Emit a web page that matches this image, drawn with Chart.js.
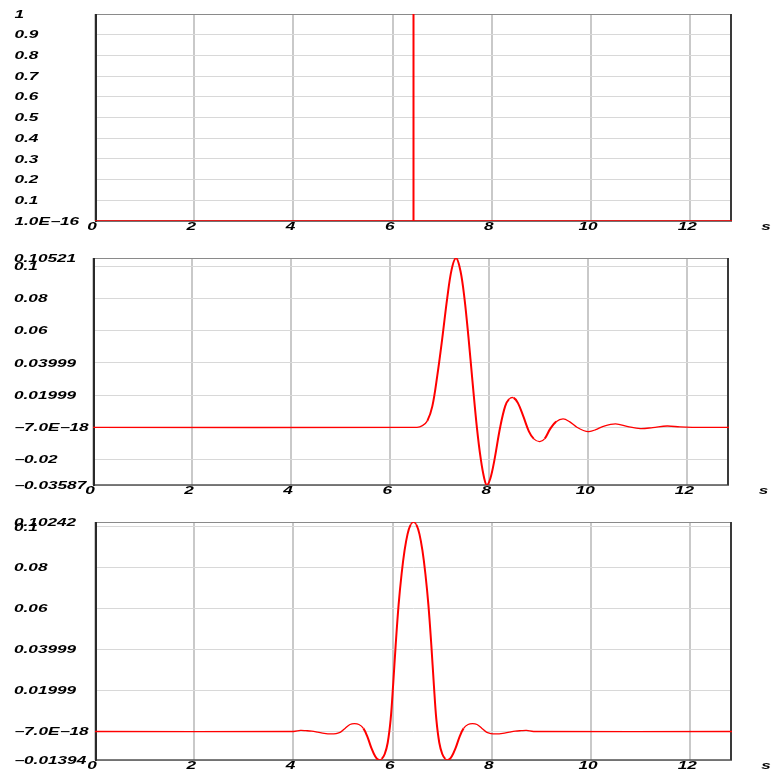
<!DOCTYPE html>
<html>
<head>
<meta charset="utf-8">
<script src="https://cdn.jsdelivr.net/npm/chart.js@4/dist/chart.umd.min.js"></script>
<style>
  html, body { margin: 0; padding: 0; background: #ffffff; }
  #wrap { position: relative; width: 773px; height: 771px; overflow: hidden; }
  canvas { position: absolute; left: 0; }
</style>
</head>
<body>
<div id="wrap">
  <canvas id="spikePanel" width="773" height="240" style="top:0px"></canvas>
  <canvas id="minPhasePanel" width="773" height="262" style="top:244px"></canvas>
  <canvas id="zeroPhasePanel" width="773" height="263" style="top:508px"></canvas>
</div>
<script>
// ---- time axis (seconds) ----
const timeTicks = [0, 2, 4, 6, 8, 10, 12];
const timeTickLabels = ["0", "2", "4", "6", "8", "10", "12"];
const timeMax = 12.84;
const timeUnit = "s";

// ---- panel 1: unit spike ----
const spikeTime = [0, 6.42, 6.42, 6.42, 12.84];
const spikeAmp  = [0, 0, 1, 0, 0];
const spikeTickValues = [1.0e-16, 0.1, 0.2, 0.3, 0.4, 0.5, 0.6, 0.7, 0.8, 0.9, 1];
const spikeTickLabels = ["1.0E\u221216", "0.1", "0.2", "0.3", "0.4", "0.5", "0.6", "0.7", "0.8", "0.9", "1"];

// ---- panel 2: minimum-phase wavelet ----
const minPhaseTime = [0, 6.54, 6.65, 6.75, 6.85, 6.95, 7.05, 7.15, 7.24, 7.33, 7.42, 7.50, 7.58, 7.66,
  7.75, 7.83, 7.90, 7.95, 8.02, 8.10, 8.22, 8.32, 8.40, 8.49, 8.58, 8.69, 8.80, 8.90, 9.02, 9.12,
  9.23, 9.35, 9.49, 9.62, 9.77, 9.90, 10.01, 10.15, 10.30, 10.55, 10.80, 11.05, 11.30, 11.59, 11.85,
  12.10, 12.84];
const minPhaseAmp = [0, 0, 0.0010, 0.0040, 0.0130, 0.0320, 0.0550, 0.0800, 0.0980, 0.10521, 0.0970,
  0.0800, 0.0560, 0.0290, 0.0000, -0.0200, -0.0320, -0.03587, -0.0320, -0.0210, 0.0000, 0.0130, 0.0175,
  0.01835, 0.0150, 0.0066, -0.0025, -0.0072, -0.0089, -0.0070, -0.0010, 0.0035, 0.0052, 0.0035, 0.0000,
  -0.0020, -0.0027, -0.0015, 0.0006, 0.0021, 0.0004, -0.0008, -0.0002, 0.0008, 0.0002, 0, 0];
const minPhaseTickValues = [-0.03587, -0.02, -7.0e-18, 0.01999, 0.03999, 0.06, 0.08, 0.1, 0.10521];
const minPhaseTickLabels = ["\u22120.03587", "\u22120.02", "\u22127.0E\u221218", "0.01999", "0.03999", "0.06", "0.08", "0.1", "0.10521"];

// ---- panel 3: zero-phase wavelet ----
const zeroPhaseTime = [0, 4.00, 4.14, 4.25, 4.37, 4.49, 4.62, 4.75, 4.86, 4.95, 5.04, 5.14, 5.23, 5.32,
  5.41, 5.49, 5.57, 5.65, 5.72, 5.78, 5.84, 5.90, 5.96, 6.01, 6.06, 6.12, 6.18, 6.24, 6.30, 6.36, 6.42,
  6.48, 6.54, 6.60, 6.66, 6.72, 6.78, 6.83, 6.88, 6.94, 7.00, 7.06, 7.12, 7.19, 7.27, 7.35, 7.43, 7.52,
  7.61, 7.70, 7.80, 7.89, 7.98, 8.09, 8.22, 8.35, 8.47, 8.59, 8.70, 8.84, 12.84];
const zeroPhaseAmp = [0, 0, 0.0005, 0.0004, 0.0002, -0.0003, -0.0009, -0.0012, -0.0010, -0.0003,
  0.0015, 0.0034, 0.0038, 0.0034, 0.0015, -0.0025, -0.0080, -0.0122, -0.01394, -0.0134, -0.0110,
  -0.0055, 0.0060, 0.0230, 0.0420, 0.0620, 0.0770, 0.0885, 0.0965, 0.1010, 0.10242, 0.1010, 0.0965,
  0.0885, 0.0770, 0.0620, 0.0420, 0.0230, 0.0060, -0.0055, -0.0110, -0.0134, -0.01394, -0.0122,
  -0.0080, -0.0025, 0.0015, 0.0034, 0.0038, 0.0034, 0.0015, -0.0003, -0.0010, -0.0012, -0.0009,
  -0.0003, 0.0002, 0.0004, 0.0005, 0, 0];
const zeroPhaseTickValues = [-0.01394, -7.0e-18, 0.01999, 0.03999, 0.06, 0.08, 0.1, 0.10242];
const zeroPhaseTickLabels = ["\u22120.01394", "\u22127.0E\u221218", "0.01999", "0.03999", "0.06", "0.08", "0.1", "0.10242"];

// ---- drawing ----
const LABEL_FONT = "italic bold 10px 'Liberation Sans', Arial, sans-serif";
const LABEL_STRETCH = 1.72;
const CANVAS_W = 773;

function wideText(ctx, text, x, y, align) {
  ctx.save();
  ctx.translate(x, y);
  ctx.scale(LABEL_STRETCH, 1);
  ctx.font = LABEL_FONT;
  ctx.fillStyle = "#000000";
  ctx.textAlign = align;
  ctx.textBaseline = "alphabetic";
  ctx.fillText(text, 0, 0);
  ctx.restore();
}

// frame around the plot area, drawn under the trace
const framePlugin = {
  id: "plotFrame",
  beforeDatasetsDraw(chart) {
    const a = chart.chartArea, ctx = chart.ctx;
    ctx.save();
    ctx.lineCap = "butt";
    ctx.strokeStyle = "#8a8a8a"; ctx.lineWidth = 1;
    ctx.beginPath(); ctx.moveTo(a.left, a.top + 0.5); ctx.lineTo(a.right, a.top + 0.5); ctx.stroke();
    ctx.strokeStyle = "#505050"; ctx.lineWidth = 1.5;
    ctx.beginPath(); ctx.moveTo(a.left, a.bottom); ctx.lineTo(a.right, a.bottom); ctx.stroke();
    ctx.strokeStyle = "#3a3a3a"; ctx.lineWidth = 2;
    ctx.beginPath(); ctx.moveTo(a.right - 1, a.top); ctx.lineTo(a.right - 1, a.bottom); ctx.stroke();
    ctx.strokeStyle = "#2a2a2a"; ctx.lineWidth = 2;
    ctx.beginPath(); ctx.moveTo(a.left + 1, a.top); ctx.lineTo(a.left + 1, a.bottom + 1); ctx.stroke();
    ctx.restore();
  }
};

// tick labels placed with the chart's own scales
const labelPlugin = {
  id: "wideLabels",
  afterDraw(chart) {
    const cfg = chart.options.plugins.wideLabels;
    const ctx = chart.ctx, a = chart.chartArea;
    const xs = chart.scales.x, ys = chart.scales.y;
    cfg.yValues.forEach((v, i) => {
      wideText(ctx, cfg.yLabels[i], cfg.labelX, ys.getPixelForValue(v) + 3.6, "left");
    });
    timeTicks.forEach((v, i) => {
      wideText(ctx, timeTickLabels[i], xs.getPixelForValue(v) - 3, a.bottom + 9.2, "center");
    });
    wideText(ctx, timeUnit, cfg.unitX, a.bottom + 9.2, "center");
  }
};

function makePanel(id, times, amps, yValues, yLabels, box, tension) {
  const canvas = document.getElementById(id);
  const H = canvas.height;
  return new Chart(canvas, {
    type: "line",
    data: {
      datasets: [{
        data: times.map((t, i) => ({ x: t, y: amps[i] })),
        borderColor: "#ff0000",
        borderWidth: 1.3,
        pointRadius: 0,
        fill: false,
        tension: tension,
        segment: {
          borderWidth: (c) => Math.abs(c.p1.y - c.p0.y) > Math.abs(c.p1.x - c.p0.x) ? 2 : 1.3
        }
      }]
    },
    options: {
      responsive: false,
      animation: false,
      events: [],
      layout: { padding: { left: box.labelX, top: box.top - box.canvasTop, right: CANVAS_W - box.right, bottom: 0 } },
      plugins: {
        legend: { display: false },
        tooltip: { enabled: false },
        wideLabels: { yValues: yValues, yLabels: yLabels, labelX: box.labelX, unitX: box.unitX }
      },
      scales: {
        x: {
          type: "linear", min: 0, max: timeMax,
          afterBuildTicks: (s) => { s.ticks = timeTicks.map((v) => ({ value: v })); },
          afterFit: (s) => { s.height = H - (box.bottom - box.canvasTop); },
          ticks: { display: false },
          grid: { color: "#c9c9c9", lineWidth: 2, drawTicks: false },
          border: { display: false }
        },
        y: {
          type: "linear", min: yValues[0], max: yValues[yValues.length - 1],
          afterBuildTicks: (s) => { s.ticks = yValues.map((v) => ({ value: v })); },
          afterFit: (s) => { s.width = box.left - box.labelX; },
          ticks: { display: false },
          grid: { color: "#d8d8d8", lineWidth: 1, drawTicks: false },
          border: { display: false }
        }
      }
    },
    plugins: [framePlugin, labelPlugin]
  });
}

makePanel("spikePanel", spikeTime, spikeAmp, spikeTickValues, spikeTickLabels,
  { canvasTop: 0, left: 95, top: 14, right: 732, bottom: 221, labelX: 14.5, unitX: 766 }, 0);
makePanel("minPhasePanel", minPhaseTime, minPhaseAmp, minPhaseTickValues, minPhaseTickLabels,
  { canvasTop: 244, left: 93, top: 258, right: 729, bottom: 485, labelX: 14, unitX: 763.5 }, 0.35);
makePanel("zeroPhasePanel", zeroPhaseTime, zeroPhaseAmp, zeroPhaseTickValues, zeroPhaseTickLabels,
  { canvasTop: 508, left: 95, top: 522, right: 732, bottom: 760, labelX: 14, unitX: 766 }, 0.35);
</script>
</body>
</html>
